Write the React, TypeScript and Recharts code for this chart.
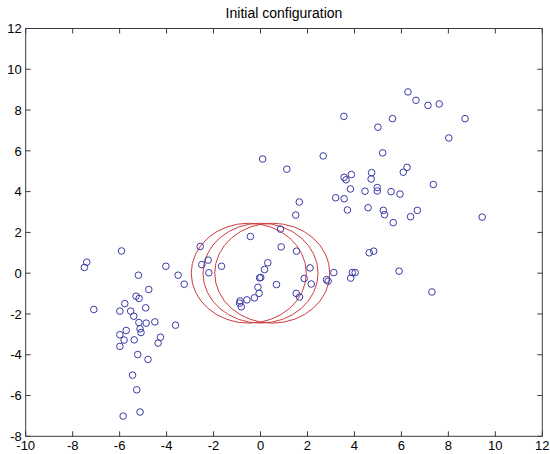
import React from "react";
import { ScatterChart, Scatter, XAxis, YAxis, ReferenceArea } from "recharts";

// ---- data ----
const X_TICKS = [-10, -8, -6, -4, -2, 0, 2, 4, 6, 8, 10, 12];
const Y_TICKS = [-8, -6, -4, -2, 0, 2, 4, 6, 8, 10, 12];
const TITLE = "Initial configuration";

const POINTS_X = [
  -7.5, -7.4, -7.1, -5.92, -5.2, -4.76, -4.03, -3.51, -3.25, -5.3, -5.17, -5.78, -5.99, -5.53, -5.4, -4.89, -5.18, -4.87, -4.5, -5.13,
  -5.09, -5.72, -5.99, -5.81, -5.38, -5.99, -4.26, -4.36, -5.23, -4.79, -3.62, -5.45, -5.27, -5.13, -5.85,
  -2.57, -2.5, -2.23, -2.2, -1.66, -0.43,
  -0.87, -0.89, -0.82, -0.58, -0.26, -0.06, -0.11, -0.04, 0.01, 0.17, 0.31,
  0.68, 0.85, 0.88, 1.53, 2.11, 1.86, 2.16, 1.52, 1.66, 2.81, 2.88, 3.12, 3.84, 3.91, 4.03, 4.63, 4.82, 5.9, 7.3,
  0.09, 1.12, 2.67, 3.55, 5.0, 5.62, 6.28, 6.62, 7.13, 7.61, 8.71, 8.02, 5.2, 3.56, 3.64, 3.87, 4.73, 4.71, 3.83, 4.45,
  4.97, 4.97, 5.56, 5.94, 6.08, 6.24, 7.36, 3.2, 3.56, 1.65, 1.5, 3.7, 4.58, 5.23, 5.28, 5.65, 6.39, 6.68, 9.44,
];
const POINTS_Y = [
  0.28, 0.54, -1.78, 1.09, -0.1, -0.8, 0.34, -0.1, -0.54, -1.13, -1.24, -1.49, -1.86, -1.86, -2.11, -1.7, -2.42, -2.45, -2.39, -2.73,
  -2.91, -2.81, -3.02, -3.28, -3.27, -3.59, -3.14, -3.43, -3.99, -4.23, -2.55, -5.0, -5.72, -6.81, -7.01,
  1.31, 0.42, 0.64, 0.02, 0.34, 1.8,
  -1.36, -1.47, -1.65, -1.31, -1.21, -0.99, -0.69, -0.23, -0.21, 0.18, 0.51,
  -0.56, 2.16, 1.29, 1.08, 0.26, -0.26, -0.53, -0.99, -1.17, -0.32, -0.39, 0.03, -0.24, 0.03, 0.03, 1.0, 1.08, 0.1, -0.92,
  5.6, 5.1, 5.75, 7.69, 7.16, 7.58, 8.89, 8.48, 8.23, 8.3, 7.58, 6.63, 5.9, 4.7, 4.58, 4.84, 4.93, 4.62, 4.13, 4.02,
  4.2, 4.03, 4.0, 3.88, 4.95, 5.19, 4.35, 3.7, 3.65, 3.49, 2.85, 3.1, 3.21, 3.08, 2.87, 2.48, 2.77, 3.08, 2.75,
];

const CIRCLE_CX = [-0.5, 0, 0.5];
const CIRCLE_CY = [0, 0, 0];
const CIRCLE_R = [2.45, 2.45, 2.45];

const points = POINTS_X.map((x, i) => ({ x, y: POINTS_Y[i] }));
const circles = CIRCLE_CX.map((x, i) => ({ x, y: CIRCLE_CY[i], r: CIRCLE_R[i] }));

// ---- layout ----
const W = 550;
const H = 454;
const M_TOP = 28.5;
const M_RIGHT = 7.7;
const Y_AXIS_W = 25.7;
const X_AXIS_H = 17.7;
const PLOT_W = W - Y_AXIS_W - M_RIGHT;
const PLOT_H = H - M_TOP - X_AXIS_H;
const X_MIN = -10, X_MAX = 12, Y_MIN = -8, Y_MAX = 12;
const PX_X = PLOT_W / (X_MAX - X_MIN);
const PX_Y = PLOT_H / (Y_MAX - Y_MIN);
const TICK = 5;
const AXIS_COLOR = "#3c3c3c";
const FONT = "'Liberation Sans', Arial, Helvetica, sans-serif";
const BLUE = "#3a3aa6";
const RED = "#cc3c3c";

const XTick = (props: any) => {
  const { x, y, payload } = props;
  return (
    <g>
      <line x1={x} y1={y} x2={x} y2={y - TICK} stroke={AXIS_COLOR} strokeWidth={1} />
      <line x1={x} y1={y - PLOT_H} x2={x} y2={y - PLOT_H + TICK} stroke={AXIS_COLOR} strokeWidth={1} />
      <text x={x} y={y + 13.3} textAnchor="middle" fontSize={13} fontFamily={FONT} fill="#000">
        {payload.value}
      </text>
    </g>
  );
};

const YTick = (props: any) => {
  const { x, y, payload } = props;
  return (
    <g>
      <line x1={x} y1={y} x2={x + TICK} y2={y} stroke={AXIS_COLOR} strokeWidth={1} />
      <line x1={x + PLOT_W} y1={y} x2={x + PLOT_W - TICK} y2={y} stroke={AXIS_COLOR} strokeWidth={1} />
      <text x={x - 4} y={y + 4.7} textAnchor="end" fontSize={13} fontFamily={FONT} fill="#000">
        {payload.value}
      </text>
    </g>
  );
};

const Marker = (props: any) => {
  const { cx, cy } = props;
  return <circle cx={cx} cy={cy} r={3.3} fill="none" stroke={BLUE} strokeWidth={1} />;
};

const Ring = (props: any) => {
  const { cx, cy, payload } = props;
  return (
    <ellipse cx={cx} cy={cy} rx={payload.r * PX_X} ry={payload.r * PX_Y} fill="none" stroke={RED} strokeWidth={1} />
  );
};

export default function App() {
  return (
    <div style={{ position: "absolute", left: 0, top: 0, width: W, height: H, background: "#fff" }}>
      <div
        style={{
          position: "absolute",
          left: Y_AXIS_W,
          width: PLOT_W,
          top: 4,
          textAlign: "center",
          fontFamily: FONT,
          fontSize: 14,
          color: "#000",
          lineHeight: "18px",
        }}
      >
        {TITLE}
      </div>
      <ScatterChart width={W} height={H} margin={{ top: M_TOP, right: M_RIGHT, left: 0, bottom: 0 }}>
        <XAxis
          type="number"
          dataKey="x"
          domain={[X_MIN, X_MAX]}
          ticks={X_TICKS}
          interval={0}
          allowDataOverflow
          height={X_AXIS_H}
          axisLine={false}
          tickLine={false}
          tickSize={0}
          tickMargin={0}
          tick={<XTick />}
        />
        <YAxis
          type="number"
          dataKey="y"
          domain={[Y_MIN, Y_MAX]}
          ticks={Y_TICKS}
          interval={0}
          allowDataOverflow
          width={Y_AXIS_W}
          axisLine={false}
          tickLine={false}
          tickSize={0}
          tickMargin={0}
          tick={<YTick />}
        />
        <ReferenceArea x1={X_MIN} x2={X_MAX} y1={Y_MIN} y2={Y_MAX} fill="none" stroke={AXIS_COLOR} strokeWidth={1} fillOpacity={0} strokeOpacity={1} />
        <Scatter data={circles} shape={<Ring />} isAnimationActive={false} />
        <Scatter data={points} shape={<Marker />} isAnimationActive={false} />
      </ScatterChart>
    </div>
  );
}
